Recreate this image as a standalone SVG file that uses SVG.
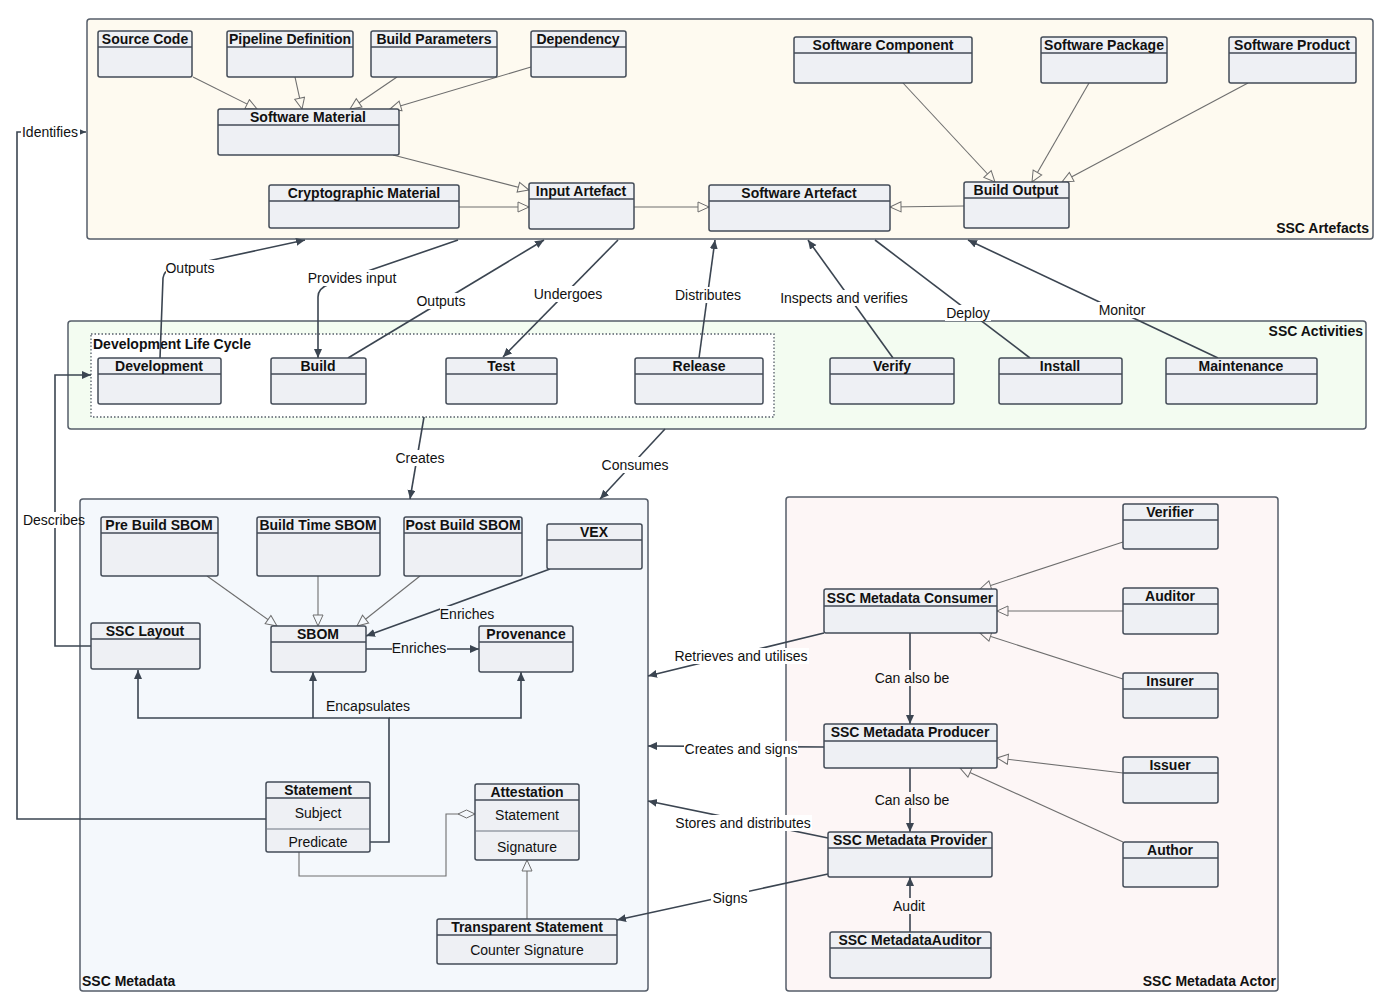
<svg xmlns="http://www.w3.org/2000/svg" width="1387" height="1005" viewBox="0 0 1387 1005">
  <style>
    text { font-family: "Liberation Sans", Arial, sans-serif; font-size: 14px; fill: #111; }
    .title { font-weight: bold; text-anchor: middle; }
    .attr { text-anchor: middle; }
    .ctitle { font-weight: bold; }
    .lbl { text-anchor: middle; }
    .box { fill: #eef0f4; stroke: #434b57; stroke-width: 1.5; }
    .hdr { stroke: #434b57; stroke-width: 1.5; }
    .sep { stroke: #6d7480; stroke-width: 1; }
    .container { stroke: #555d69; stroke-width: 1.5; }
    .gen { fill: none; stroke: #6e6e6e; stroke-width: 1.1; }
    .assoc { fill: none; stroke: #3b4551; stroke-width: 1.6; }
    .arrow { marker-end: url(#head); }
  </style>
  <defs>
    <marker id="head" markerUnits="userSpaceOnUse" markerWidth="10" markerHeight="9" refX="9" refY="4" orient="auto">
      <path d="M0,0 L9,4 L0,8 z" fill="#3b4551"/>
    </marker>
    <marker id="tri-cream" markerUnits="userSpaceOnUse" markerWidth="14" markerHeight="14" refX="12" refY="6" orient="auto">
      <path d="M1,1 L12,6 L1,11 z" fill="#fefaf0" stroke="#6e6e6e" stroke-width="1"/>
    </marker>
    <marker id="tri-blue" markerUnits="userSpaceOnUse" markerWidth="14" markerHeight="14" refX="12" refY="6" orient="auto">
      <path d="M1,1 L12,6 L1,11 z" fill="#f4f8fc" stroke="#6e6e6e" stroke-width="1"/>
    </marker>
    <marker id="tri-pink" markerUnits="userSpaceOnUse" markerWidth="14" markerHeight="14" refX="12" refY="6" orient="auto">
      <path d="M1,1 L12,6 L1,11 z" fill="#fdf6f6" stroke="#6e6e6e" stroke-width="1"/>
    </marker>
    <marker id="diamond" markerUnits="userSpaceOnUse" markerWidth="20" markerHeight="10" refX="18" refY="5" orient="auto">
      <path d="M1,5 L9.5,1 L18,5 L9.5,9 z" fill="#f4f8fc" stroke="#6e6e6e" stroke-width="1"/>
    </marker>
  </defs>

  <rect width="1387" height="1005" fill="#ffffff"/>

  <!-- Containers -->
  <g id="ssc-artefacts">
    <rect class="container" x="87" y="19" width="1286" height="220" rx="3" fill="#fefaf0"/>
    <text class="ctitle" x="1369" y="233" text-anchor="end">SSC Artefacts</text>
  </g>
  <g id="ssc-activities">
    <rect class="container" x="68" y="321" width="1298" height="108" rx="3" fill="#f3fcf1"/>
    <text class="ctitle" x="1363" y="336" text-anchor="end">SSC Activities</text>
  </g>
  <g id="development-life-cycle">
    <rect x="91" y="334" width="683" height="83" fill="#ffffff" stroke="#555d69" stroke-width="1.3" stroke-dasharray="1.5,2"/>
    <text class="ctitle" x="93" y="349">Development Life Cycle</text>
  </g>
  <g id="ssc-metadata">
    <rect class="container" x="80" y="499" width="568" height="492" rx="3" fill="#f4f8fc"/>
    <text class="ctitle" x="82" y="986">SSC Metadata</text>
  </g>
  <g id="ssc-metadata-actor">
    <rect class="container" x="786" y="497" width="492" height="494" rx="3" fill="#fdf6f6"/>
    <text class="ctitle" x="1276" y="986" text-anchor="end">SSC Metadata Actor</text>
  </g>

  <!-- Connectors -->
  <g id="connectors">
    <!-- generalisations in artefacts -->
    <path class="gen" d="M193,77 L257,109" marker-end="url(#tri-cream)"/>
    <path class="gen" d="M295,77 L302,109" marker-end="url(#tri-cream)"/>
    <path class="gen" d="M397,77 L350,109" marker-end="url(#tri-cream)"/>
    <path class="gen" d="M531,67 L390,109" marker-end="url(#tri-cream)"/>
    <path class="gen" d="M393,155 L529,190" marker-end="url(#tri-cream)"/>
    <path class="gen" d="M459,207 L529,207" marker-end="url(#tri-cream)"/>
    <path class="gen" d="M634,207 L709,207" marker-end="url(#tri-cream)"/>
    <path class="gen" d="M964,206 L890,207" marker-end="url(#tri-cream)"/>
    <path class="gen" d="M903,83 L995,182" marker-end="url(#tri-cream)"/>
    <path class="gen" d="M1089,83 L1032,182" marker-end="url(#tri-cream)"/>
    <path class="gen" d="M1248,83 L1062,182" marker-end="url(#tri-cream)"/>

    <!-- generalisations in metadata -->
    <path class="gen" d="M207,576 L277,626" marker-end="url(#tri-blue)"/>
    <path class="gen" d="M318,576 L318,626" marker-end="url(#tri-blue)"/>
    <path class="gen" d="M420,576 L357,626" marker-end="url(#tri-blue)"/>
    <path class="gen" d="M527,919 L527,860" marker-end="url(#tri-blue)"/>
    <path class="gen" d="M299,852 V876 H446 V814 H475" marker-end="url(#diamond)"/>

    <!-- generalisations in actors -->
    <path class="gen" d="M1123,542 L980,589" marker-end="url(#tri-pink)"/>
    <path class="gen" d="M1123,611 L997,611" marker-end="url(#tri-pink)"/>
    <path class="gen" d="M1123,679 L980,633" marker-end="url(#tri-pink)"/>
    <path class="gen" d="M1123,773 L997,758" marker-end="url(#tri-pink)"/>
    <path class="gen" d="M1123,842 L960,768" marker-end="url(#tri-pink)"/>

    <!-- activities to artefacts -->
    <path class="assoc arrow" d="M160,358 L163,278 Q164,271 171,269 L305,240"/>
    <path class="assoc arrow" d="M458,240 L330,284 Q318,288 318,297 L318,358"/>
    <path class="assoc arrow" d="M348,358 L544,240"/>
    <path class="assoc arrow" d="M618,240 L503,357"/>
    <path class="assoc arrow" d="M699,358 L715,240"/>
    <path class="assoc arrow" d="M893,358 L808,240"/>
    <path class="assoc" d="M875,240 L1030,358"/>
    <path class="assoc arrow" d="M1218,358 L968,240"/>

    <!-- activities to metadata -->
    <path class="assoc arrow" d="M424,417 L410,499"/>
    <path class="assoc arrow" d="M665,429 L600,499"/>

    <!-- long routes on the left -->
    <path class="assoc arrow" d="M266,819 H17 V132 H86"/>
    <path class="assoc" d="M91,646 H55 V528"/>
    <path class="assoc arrow" d="M55,512 V375 H91"/>

    <!-- inside metadata -->
    <path class="assoc arrow" d="M550,569 L366,636"/>
    <path class="assoc arrow" d="M366,649 H479"/>
    <path class="assoc arrow" d="M370,842 H389 V718 H138 V670"/>
    <path class="assoc arrow" d="M389,718 H521 V672"/>
    <path class="assoc arrow" d="M313,718 V672"/>

    <!-- actor relations -->
    <path class="assoc arrow" d="M910,633 V724"/>
    <path class="assoc arrow" d="M910,768 V832"/>
    <path class="assoc arrow" d="M910,932 V877"/>
    <path class="assoc arrow" d="M824,633 L648,676"/>
    <path class="assoc arrow" d="M824,747 L648,746"/>
    <path class="assoc arrow" d="M828,838 L648,801"/>
    <path class="assoc arrow" d="M828,874 L617,920"/>

    <!-- connector labels -->
    <g id="labels">
      <rect x="21" y="124" width="59" height="16" fill="#ffffff"/>
      <text class="lbl" x="50" y="137">Identifies</text>
      <rect x="166" y="260" width="50" height="16" fill="#ffffff"/>
      <text class="lbl" x="190" y="273">Outputs</text>
      <rect x="307" y="270" width="91" height="16" fill="#ffffff"/>
      <text class="lbl" x="352" y="283">Provides input</text>
      <rect x="415" y="293" width="52" height="16" fill="#ffffff"/>
      <text class="lbl" x="441" y="306">Outputs</text>
      <rect x="533" y="286" width="70" height="16" fill="#ffffff"/>
      <text class="lbl" x="568" y="299">Undergoes</text>
      <rect x="674" y="287" width="68" height="16" fill="#ffffff"/>
      <text class="lbl" x="708" y="300">Distributes</text>
      <rect x="780" y="290" width="128" height="16" fill="#ffffff"/>
      <text class="lbl" x="844" y="303">Inspects and verifies</text>
      <rect x="945" y="305" width="46" height="16" fill="#ffffff"/>
      <text class="lbl" x="968" y="318">Deploy</text>
      <rect x="1098" y="302" width="48" height="16" fill="#ffffff"/>
      <text class="lbl" x="1122" y="315">Monitor</text>
      <rect x="394" y="450" width="52" height="16" fill="#ffffff"/>
      <text class="lbl" x="420" y="463">Creates</text>
      <rect x="601" y="457" width="68" height="16" fill="#ffffff"/>
      <text class="lbl" x="635" y="470">Consumes</text>
      <text class="lbl" x="54" y="525">Describes</text>
      <rect x="440" y="606" width="55" height="16" fill="#f4f8fc"/>
      <text class="lbl" x="467" y="619">Enriches</text>
      <rect x="392" y="640" width="55" height="16" fill="#f4f8fc"/>
      <text class="lbl" x="419" y="653">Enriches</text>
      <rect x="326" y="698" width="84" height="16" fill="#f4f8fc"/>
      <text class="lbl" x="368" y="711">Encapsulates</text>
      <rect x="673" y="648" width="136" height="16" fill="#ffffff"/>
      <text class="lbl" x="741" y="661">Retrieves and utilises</text>
      <rect x="874" y="670" width="76" height="16" fill="#fdf6f6"/>
      <text class="lbl" x="912" y="683">Can also be</text>
      <rect x="684" y="741" width="114" height="16" fill="#ffffff"/>
      <text class="lbl" x="741" y="754">Creates and signs</text>
      <rect x="874" y="792" width="76" height="16" fill="#fdf6f6"/>
      <text class="lbl" x="912" y="805">Can also be</text>
      <rect x="675" y="815" width="137" height="16" fill="#ffffff"/>
      <text class="lbl" x="743" y="828">Stores and distributes</text>
      <rect x="711" y="890" width="38" height="16" fill="#ffffff"/>
      <text class="lbl" x="730" y="903">Signs</text>
      <rect x="891" y="898" width="36" height="16" fill="#fdf6f6"/>
      <text class="lbl" x="909" y="911">Audit</text>
    </g>
  </g>

  <!-- Artefact nodes -->
  <g id="source-code"><rect class="box" x="98" y="31" width="94" height="46" rx="2"/><line class="hdr" x1="98" y1="47" x2="192" y2="47"/><text class="title" x="145" y="44">Source Code</text></g>
  <g id="pipeline-definition"><rect class="box" x="227" y="31" width="126" height="46" rx="2"/><line class="hdr" x1="227" y1="47" x2="353" y2="47"/><text class="title" x="290" y="44">Pipeline Definition</text></g>
  <g id="build-parameters"><rect class="box" x="371" y="31" width="126" height="46" rx="2"/><line class="hdr" x1="371" y1="47" x2="497" y2="47"/><text class="title" x="434" y="44">Build Parameters</text></g>
  <g id="dependency"><rect class="box" x="531" y="31" width="95" height="46" rx="2"/><line class="hdr" x1="531" y1="47" x2="626" y2="47"/><text class="title" x="578" y="44">Dependency</text></g>
  <g id="software-component"><rect class="box" x="794" y="37" width="178" height="46" rx="2"/><line class="hdr" x1="794" y1="53" x2="972" y2="53"/><text class="title" x="883" y="50">Software Component</text></g>
  <g id="software-package"><rect class="box" x="1041" y="37" width="126" height="46" rx="2"/><line class="hdr" x1="1041" y1="53" x2="1167" y2="53"/><text class="title" x="1104" y="50">Software Package</text></g>
  <g id="software-product"><rect class="box" x="1229" y="37" width="127" height="46" rx="2"/><line class="hdr" x1="1229" y1="53" x2="1356" y2="53"/><text class="title" x="1292" y="50">Software Product</text></g>
  <g id="software-material"><rect class="box" x="218" y="109" width="181" height="46" rx="2"/><line class="hdr" x1="218" y1="125" x2="399" y2="125"/><text class="title" x="308" y="122">Software Material</text></g>
  <g id="cryptographic-material"><rect class="box" x="269" y="185" width="190" height="43" rx="2"/><line class="hdr" x1="269" y1="201" x2="459" y2="201"/><text class="title" x="364" y="198">Cryptographic Material</text></g>
  <g id="input-artefact"><rect class="box" x="529" y="183" width="105" height="46" rx="2"/><line class="hdr" x1="529" y1="199" x2="634" y2="199"/><text class="title" x="581" y="196">Input Artefact</text></g>
  <g id="software-artefact"><rect class="box" x="709" y="185" width="181" height="46" rx="2"/><line class="hdr" x1="709" y1="201" x2="890" y2="201"/><text class="title" x="799" y="198">Software Artefact</text></g>
  <g id="build-output"><rect class="box" x="964" y="182" width="105" height="46" rx="2"/><line class="hdr" x1="964" y1="198" x2="1069" y2="198"/><text class="title" x="1016" y="195">Build Output</text></g>

  <!-- Activity nodes -->
  <g id="development"><rect class="box" x="98" y="358" width="123" height="46" rx="2"/><line class="hdr" x1="98" y1="374" x2="221" y2="374"/><text class="title" x="159" y="371">Development</text></g>
  <g id="build"><rect class="box" x="271" y="358" width="95" height="46" rx="2"/><line class="hdr" x1="271" y1="374" x2="366" y2="374"/><text class="title" x="318" y="371">Build</text></g>
  <g id="test"><rect class="box" x="446" y="358" width="111" height="46" rx="2"/><line class="hdr" x1="446" y1="374" x2="557" y2="374"/><text class="title" x="501" y="371">Test</text></g>
  <g id="release"><rect class="box" x="635" y="358" width="128" height="46" rx="2"/><line class="hdr" x1="635" y1="374" x2="763" y2="374"/><text class="title" x="699" y="371">Release</text></g>
  <g id="verify"><rect class="box" x="830" y="358" width="124" height="46" rx="2"/><line class="hdr" x1="830" y1="374" x2="954" y2="374"/><text class="title" x="892" y="371">Verify</text></g>
  <g id="install"><rect class="box" x="999" y="358" width="123" height="46" rx="2"/><line class="hdr" x1="999" y1="374" x2="1122" y2="374"/><text class="title" x="1060" y="371">Install</text></g>
  <g id="maintenance"><rect class="box" x="1166" y="358" width="151" height="46" rx="2"/><line class="hdr" x1="1166" y1="374" x2="1317" y2="374"/><text class="title" x="1241" y="371">Maintenance</text></g>

  <!-- Metadata nodes -->
  <g id="pre-build-sbom"><rect class="box" x="101" y="517" width="117" height="59" rx="2"/><line class="hdr" x1="101" y1="533" x2="218" y2="533"/><text class="title" x="159" y="530">Pre Build SBOM</text></g>
  <g id="build-time-sbom"><rect class="box" x="257" y="517" width="123" height="59" rx="2"/><line class="hdr" x1="257" y1="533" x2="380" y2="533"/><text class="title" x="318" y="530">Build Time SBOM</text></g>
  <g id="post-build-sbom"><rect class="box" x="404" y="517" width="118" height="59" rx="2"/><line class="hdr" x1="404" y1="533" x2="522" y2="533"/><text class="title" x="463" y="530">Post Build SBOM</text></g>
  <g id="vex"><rect class="box" x="547" y="524" width="95" height="45" rx="2"/><line class="hdr" x1="547" y1="540" x2="642" y2="540"/><text class="title" x="594" y="537">VEX</text></g>
  <g id="ssc-layout"><rect class="box" x="91" y="623" width="109" height="46" rx="2"/><line class="hdr" x1="91" y1="639" x2="200" y2="639"/><text class="title" x="145" y="636">SSC Layout</text></g>
  <g id="sbom"><rect class="box" x="271" y="626" width="95" height="46" rx="2"/><line class="hdr" x1="271" y1="642" x2="366" y2="642"/><text class="title" x="318" y="639">SBOM</text></g>
  <g id="provenance"><rect class="box" x="479" y="626" width="94" height="46" rx="2"/><line class="hdr" x1="479" y1="642" x2="573" y2="642"/><text class="title" x="526" y="639">Provenance</text></g>
  <g id="statement">
    <rect class="box" x="266" y="782" width="104" height="70" rx="2"/>
    <line class="hdr" x1="266" y1="798" x2="370" y2="798"/>
    <line class="sep" x1="266" y1="829" x2="370" y2="829"/>
    <text class="title" x="318" y="795">Statement</text>
    <text class="attr" x="318" y="818">Subject</text>
    <text class="attr" x="318" y="847">Predicate</text>
  </g>
  <g id="attestation">
    <rect class="box" x="475" y="784" width="104" height="76" rx="2"/>
    <line class="hdr" x1="475" y1="800" x2="579" y2="800"/>
    <line class="sep" x1="475" y1="831" x2="579" y2="831"/>
    <text class="title" x="527" y="797">Attestation</text>
    <text class="attr" x="527" y="820">Statement</text>
    <text class="attr" x="527" y="852">Signature</text>
  </g>
  <g id="transparent-statement">
    <rect class="box" x="437" y="919" width="180" height="45" rx="2"/>
    <line class="hdr" x1="437" y1="935" x2="617" y2="935"/>
    <text class="title" x="527" y="932">Transparent Statement</text>
    <text class="attr" x="527" y="955">Counter Signature</text>
  </g>

  <!-- Actor nodes -->
  <g id="verifier"><rect class="box" x="1123" y="504" width="95" height="45" rx="2"/><line class="hdr" x1="1123" y1="520" x2="1218" y2="520"/><text class="title" x="1170" y="517">Verifier</text></g>
  <g id="auditor"><rect class="box" x="1123" y="588" width="95" height="46" rx="2"/><line class="hdr" x1="1123" y1="604" x2="1218" y2="604"/><text class="title" x="1170" y="601">Auditor</text></g>
  <g id="insurer"><rect class="box" x="1123" y="673" width="95" height="45" rx="2"/><line class="hdr" x1="1123" y1="689" x2="1218" y2="689"/><text class="title" x="1170" y="686">Insurer</text></g>
  <g id="issuer"><rect class="box" x="1123" y="757" width="95" height="46" rx="2"/><line class="hdr" x1="1123" y1="773" x2="1218" y2="773"/><text class="title" x="1170" y="770">Issuer</text></g>
  <g id="author"><rect class="box" x="1123" y="842" width="95" height="45" rx="2"/><line class="hdr" x1="1123" y1="858" x2="1218" y2="858"/><text class="title" x="1170" y="855">Author</text></g>
  <g id="ssc-metadata-consumer"><rect class="box" x="824" y="589" width="173" height="44" rx="2"/><line class="hdr" x1="824" y1="606" x2="997" y2="606"/><text class="title" x="910" y="603">SSC Metadata Consumer</text></g>
  <g id="ssc-metadata-producer"><rect class="box" x="824" y="724" width="173" height="44" rx="2"/><line class="hdr" x1="824" y1="741" x2="997" y2="741"/><text class="title" x="910" y="737">SSC Metadata Producer</text></g>
  <g id="ssc-metadata-provider"><rect class="box" x="828" y="832" width="164" height="45" rx="2"/><line class="hdr" x1="828" y1="848" x2="992" y2="848"/><text class="title" x="910" y="845">SSC Metadata Provider</text></g>
  <g id="ssc-metadata-auditor"><rect class="box" x="830" y="932" width="161" height="46" rx="2"/><line class="hdr" x1="830" y1="948" x2="991" y2="948"/><text class="title" x="910" y="945">SSC MetadataAuditor</text></g>
</svg>
